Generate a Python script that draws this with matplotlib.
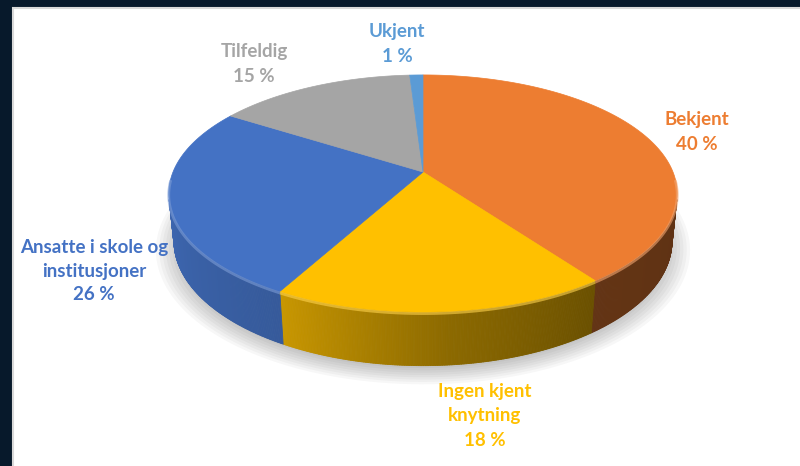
import numpy as np
import matplotlib
matplotlib.use('Agg')
import matplotlib.pyplot as plt
from matplotlib.patches import Polygon, Rectangle
from matplotlib.collections import PolyCollection
from matplotlib.colors import to_rgb

# data
names = ['Bekjent', 'Ingen kjent\nknytning', 'Ansatte i skole og\ninstitusjoner', 'Tilfeldig', 'Ukjent']
shares = [40, 18, 26, 15, 1]
colors = ['#ED7D31', '#FFC000', '#4472C4', '#A5A5A5', '#5B9BD5']

# label placement (pixel coords of text centre)
label_pos = [(697, 132), (485, 416), (94, 271), (254, 64), (397, 44)]

# 3d view of the disc (perspective)
tilt = np.radians(27.3)
c, s = np.cos(tilt), np.sin(tilt)
D, f = 4.9, 1225.0
cx, cy = 423, 172
h = 0.215


def proj(X, Y, Z):
    depth = D + Y * c - Z * s
    return cx + f * X / depth, cy - f * (Y * s + Z * c) / depth


def shade(phi):
    return np.interp(phi, [-167, -119, -85, -54, -13], [0.9, 0.79, 0.55, 0.42, 0.40])


fig = plt.figure(figsize=(8, 4.66), dpi=100, facecolor='#07192B')
ax = fig.add_axes([0, 0, 1, 1])
ax.set_xlim(0, 800)
ax.set_ylim(466, 0)
ax.axis('off')
ax.add_patch(Rectangle((13, 8), 800, 470, facecolor='white', edgecolor='#D9D9D9', lw=1.5))

# soft shadow under the pie
ph = np.linspace(0, 2 * np.pi, 200)
for k, r in enumerate(np.linspace(1.07, 0.98, 8)):
    x, y = proj(r * np.cos(ph), r * np.sin(ph), -h)
    ax.add_patch(Polygon(np.c_[x, y + 6], closed=True, facecolor='black', alpha=0.03, lw=0))

bounds = 90 - 360 * np.concatenate([[0], np.cumsum(shares)]) / sum(shares)
vis = np.degrees(np.arcsin(1 / (D * c)))
vis_lo, vis_hi = -180 + vis, -vis

# side walls
for i in range(len(shares)):
    a1, a0 = bounds[i], bounds[i + 1]
    lo, hi = max(a0, vis_lo), min(a1, vis_hi)
    if lo >= hi:
        continue
    phi = np.linspace(lo, hi, int((hi - lo) * 3) + 2)
    rad = np.radians(phi)
    xt, yt = proj(np.cos(rad), np.sin(rad), 0)
    xb, yb = proj(np.cos(rad), np.sin(rad), -h)
    quads, fc = [], []
    base = np.array(to_rgb(colors[i]))
    for k in range(len(phi) - 1):
        quads.append([(xt[k], yt[k]), (xt[k + 1], yt[k + 1]), (xb[k + 1], yb[k + 1]), (xb[k], yb[k])])
        fc.append(base * shade((phi[k] + phi[k + 1]) / 2))
    ax.add_collection(PolyCollection(quads, facecolors=fc, edgecolors=fc, linewidths=0.6))

# top faces
for i in range(len(shares)):
    a1, a0 = bounds[i], bounds[i + 1]
    rad = np.radians(np.linspace(a0, a1, 200))
    x, y = proj(np.cos(rad), np.sin(rad), 0)
    pts = np.vstack([[cx, cy], np.c_[x, y]])
    ax.add_patch(Polygon(pts, closed=True, facecolor=colors[i], edgecolor=colors[i], lw=0.5))
    # bevel highlight on the front rim
    lo, hi = max(a0, vis_lo - 10), min(a1, vis_hi + 10)
    if lo < hi:
        r2 = np.radians(np.linspace(lo, hi, 100))
        x, y = proj(np.cos(r2), np.sin(r2), 0)
        light = np.array(to_rgb(colors[i])) * 0.7 + 0.3
        ax.plot(x, y + 1.5, color=light, lw=2, alpha=0.6, solid_capstyle='butt')

# labels
for i in range(len(shares)):
    ax.text(label_pos[i][0], label_pos[i][1], f'{names[i]}\n{shares[i]} %',
            ha='center', va='center', color=colors[i], fontsize=13.5,
            fontweight='bold', family='Lato', linespacing=1.5)

fig.savefig('out.png', dpi=100, facecolor=fig.get_facecolor())
